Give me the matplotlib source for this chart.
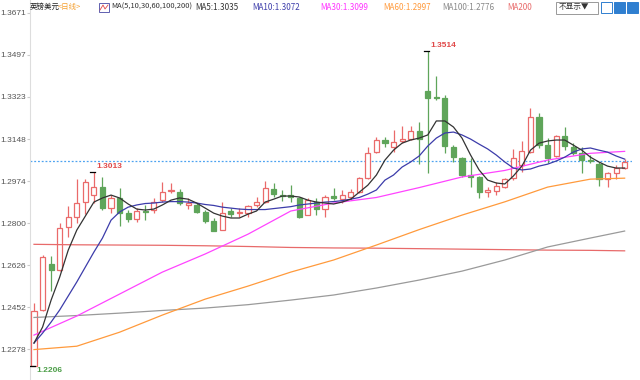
import matplotlib
matplotlib.use('Agg')
import matplotlib.pyplot as plt
from matplotlib.patches import Rectangle

# daily candles, GBP/USD
opens = [1.2210, 1.2440, 1.2630, 1.2605, 1.2783, 1.2826, 1.2886, 1.2916, 1.2951, 1.2863,
         1.2902, 1.2843, 1.2817, 1.2850, 1.2854, 1.2895, 1.2932, 1.2930, 1.2873, 1.2875,
         1.2844, 1.2808, 1.2771, 1.2848, 1.2840, 1.2840, 1.2875, 1.2888, 1.2941, 1.2918,
         1.2916, 1.2902, 1.2834, 1.2888, 1.2857, 1.2912, 1.2901, 1.2906, 1.2930, 1.2985,
         1.3093, 1.3144, 1.3114, 1.3140, 1.3147, 1.3182, 1.3348, 1.3324, 1.3317, 1.3116,
         1.3068, 1.2999, 1.2989, 1.2930, 1.2934, 1.2950, 1.2985, 1.3040, 1.3094, 1.3240,
         1.3123, 1.3078, 1.3160, 1.3116, 1.3089, 1.3061, 1.3044, 1.2981, 1.3008, 1.3030]
highs = [1.2469, 1.2667, 1.2663, 1.2799, 1.2872, 1.2982, 1.2981, 1.3013, 1.2992, 1.2916,
         1.2944, 1.2854, 1.2861, 1.2874, 1.2902, 1.2969, 1.2965, 1.2941, 1.2905, 1.2882,
         1.2854, 1.2819, 1.2888, 1.2861, 1.2861, 1.2875, 1.2909, 1.2975, 1.2967, 1.2937,
         1.2957, 1.2909, 1.2902, 1.2902, 1.2916, 1.2944, 1.2937, 1.2941, 1.2992, 1.3114,
         1.3158, 1.3158, 1.3185, 1.3202, 1.3202, 1.3220, 1.3514, 1.3409, 1.3330, 1.3123,
         1.3075, 1.3068, 1.2995, 1.2950, 1.2971, 1.2986, 1.3105, 1.3141, 1.3275, 1.3254,
         1.3151, 1.3165, 1.3199, 1.3133, 1.3116, 1.3082, 1.3054, 1.3013, 1.3040, 1.3065]
lows = [1.2206, 1.2435, 1.2520, 1.2603, 1.2743, 1.2800, 1.2837, 1.2882, 1.2854, 1.2840,
        1.2788, 1.2804, 1.2805, 1.2812, 1.2840, 1.2888, 1.2923, 1.2875, 1.2857, 1.2840,
        1.2799, 1.2767, 1.2771, 1.2826, 1.2826, 1.2826, 1.2868, 1.2882, 1.2906, 1.2891,
        1.2888, 1.2822, 1.2832, 1.2833, 1.2824, 1.2895, 1.2882, 1.2895, 1.2923, 1.2983,
        1.3090, 1.3116, 1.3095, 1.3130, 1.3144, 1.3044, 1.3006, 1.3310, 1.3089, 1.3054,
        1.2991, 1.2950, 1.2902, 1.2909, 1.2916, 1.2945, 1.2978, 1.3013, 1.3090, 1.3111,
        1.3049, 1.3075, 1.3102, 1.3082, 1.3008, 1.3047, 1.2953, 1.2948, 1.2981, 1.3022]
closes = [1.2437, 1.2660, 1.2605, 1.2778, 1.2825, 1.2882, 1.2971, 1.2948, 1.2863, 1.2902,
          1.2843, 1.2818, 1.2851, 1.2846, 1.2888, 1.2930, 1.2939, 1.2882, 1.2882, 1.2847,
          1.2810, 1.2768, 1.2843, 1.2837, 1.2844, 1.2872, 1.2886, 1.2944, 1.2920, 1.2912,
          1.2906, 1.2826, 1.2895, 1.2857, 1.2909, 1.2904, 1.2915, 1.2930, 1.2985, 1.3091,
          1.3144, 1.3133, 1.3137, 1.3147, 1.3182, 1.3147, 1.3317, 1.3317, 1.3119, 1.3072,
          1.2999, 1.2992, 1.2930, 1.2937, 1.2955, 1.2981, 1.3068, 1.3100, 1.3240, 1.3123,
          1.3069, 1.3160, 1.3119, 1.3089, 1.3061, 1.3056, 1.2981, 1.3008, 1.3030, 1.3054]

# moving averages as drawn on the source chart
ma5 = [1.2303, 1.2369, 1.2481, 1.2576, 1.2688, 1.2771, 1.2829, 1.2887, 1.2904, 1.2916,
       1.2904, 1.2879, 1.2858, 1.2854, 1.2858, 1.2875, 1.2895, 1.2904, 1.2899, 1.2883,
       1.2862, 1.2841, 1.2829, 1.2821, 1.2821, 1.2837, 1.2850, 1.2887, 1.2899, 1.2912,
       1.2912, 1.2908, 1.2895, 1.2887, 1.2883, 1.2879, 1.2887, 1.2899, 1.2928, 1.2957,
       1.2999, 1.3061, 1.3102, 1.3131, 1.3144, 1.3152, 1.3165, 1.3223, 1.3223, 1.3198,
       1.3152, 1.3082, 1.3020, 1.2978, 1.2966, 1.2962, 1.2995, 1.3036, 1.3102, 1.3131,
       1.3140, 1.3144, 1.3144, 1.3123, 1.3102, 1.3073, 1.3053, 1.3036, 1.3028, 1.3028]
ma10 = [1.2303, 1.2344, 1.2390, 1.2440, 1.2498, 1.2556, 1.2618, 1.2680, 1.2738, 1.2812,
        1.2846, 1.2866, 1.2875, 1.2881, 1.2883, 1.2887, 1.2889, 1.2889, 1.2887, 1.2883,
        1.2877, 1.2873, 1.2866, 1.2862, 1.2858, 1.2856, 1.2856, 1.2856, 1.2860, 1.2864,
        1.2868, 1.2875, 1.2879, 1.2883, 1.2887, 1.2889, 1.2893, 1.2899, 1.2906, 1.2920,
        1.2937, 1.2978, 1.2999, 1.3032, 1.3053, 1.3078, 1.3119, 1.3152, 1.3173, 1.3177,
        1.3165, 1.3148, 1.3127, 1.3107, 1.3082, 1.3053, 1.3028, 1.3020, 1.3024, 1.3036,
        1.3044, 1.3057, 1.3073, 1.3094, 1.3107, 1.3111, 1.3102, 1.3094, 1.3078, 1.3065]
ma_idx = [0, 5, 10, 15, 20, 25, 30, 35, 40, 45, 50, 55, 60, 65, 69]
ma30 = [1.2336, 1.2415, 1.2506, 1.2597, 1.2672, 1.2754, 1.2850, 1.2883,
        1.2906, 1.2947, 1.2991, 1.3018, 1.3061, 1.3089, 1.3097]
ma60 = [1.2276, 1.2290, 1.2348, 1.2419, 1.2485, 1.2539, 1.2597, 1.2647,
        1.2709, 1.2773, 1.2833, 1.2888, 1.2949, 1.2982, 1.2986]
ma100 = [1.2409, 1.2417, 1.2427, 1.2438, 1.2448, 1.2462, 1.2481, 1.2502,
         1.2531, 1.2564, 1.2601, 1.2647, 1.2701, 1.2738, 1.2767]
ma200 = [1.2712, 1.2710, 1.2709, 1.2708, 1.2706, 1.2703, 1.2699, 1.2697,
         1.2696, 1.2694, 1.2692, 1.2690, 1.2688, 1.2687, 1.2685]

yticks = [1.2278, 1.2452, 1.2626, 1.2800, 1.2974, 1.3148, 1.3323, 1.3497, 1.3671]
last_price = 1.3059

RED = '#ea6a6a'
GREEN = '#5fa55a'
NUMFONT = ['Liberation Sans', 'DejaVu Sans']
CJK = ['Noto Sans CJK SC', 'DejaVu Sans']

fig = plt.figure(figsize=(6.4, 3.8), dpi=100)
ax = fig.add_axes([30 / 640, 0, 602 / 640, 1])
ax.set_xlim(-0.467, 69.86)
ax.set_ylim(1.2150, 1.3724)

# candles
for i in range(len(opens)):
    o, h, l, c = opens[i], highs[i], lows[i], closes[i]
    col = RED if c >= o else GREEN
    ax.vlines(i, l, h, color=col, lw=0.9, zorder=2)
    bottom = min(o, c)
    height = max(abs(c - o), 0.00025)
    face = 'white' if c >= o else col
    ax.add_patch(Rectangle((i - 0.3, bottom), 0.6, height, facecolor=face,
                           edgecolor=col, lw=0.9, zorder=3))

xs = list(range(len(ma5)))
ax.plot(ma_idx, ma200, color='#e86a6a', lw=0.9, zorder=4)
ax.plot(ma_idx, ma100, color='#9a9a9a', lw=0.9, zorder=4)
ax.plot(ma_idx, ma60, color='#ff9a3c', lw=0.9, zorder=4)
ax.plot(ma_idx, ma30, color='#ff44ff', lw=0.9, zorder=4)
ax.plot(xs, ma10, color='#3c3caa', lw=0.9, zorder=5)
ax.plot(xs, ma5, color='#333333', lw=0.9, zorder=6)

ax.axhline(last_price, color='#4da3f0', lw=0.9, ls=(0, (1.5, 1.5)), zorder=1)

# high / low marks
hi1 = highs.index(max(highs[:20]))
hi2 = highs.index(max(highs))
lo1 = lows.index(min(lows))
for idx, val in [(hi1, highs[hi1]), (hi2, highs[hi2]), (lo1, lows[lo1])]:
    ax.plot([idx - 0.45, idx + 0.1], [val, val], color='black', lw=0.9, zorder=7)
ax.text(hi1 + 0.3, highs[hi1] + 0.0005, '%.4f' % highs[hi1], color='#e04848',
        fontsize=6, fontweight='bold', family=NUMFONT, va='bottom', ha='left')
ax.text(hi2 + 0.3, highs[hi2] + 0.0005, '%.4f' % highs[hi2], color='#e04848',
        fontsize=6, fontweight='bold', family=NUMFONT, va='bottom', ha='left')
ax.text(lo1 + 0.3, lows[lo1] - 0.0004, '%.4f' % lows[lo1], color='#4c9e48',
        fontsize=6, fontweight='bold', family=NUMFONT, va='top', ha='left')

ax.set_xticks([])
ax.set_yticks(yticks)
ax.set_yticklabels(['%.4f' % v for v in yticks], family=NUMFONT, fontsize=6, color='#555555')
ax.tick_params(axis='y', length=2, pad=1, color='#cccccc')
for s in ['top', 'right', 'bottom']:
    ax.spines[s].set_visible(False)
ax.spines['left'].set_color('#dddddd')
ax.spines['left'].set_linewidth(0.8)


def ftext(x, y, s, size=5.8, **kw):
    fig.text(x / 640, 1 - y / 380, s, va='center', ha='left', fontsize=size, family=CJK, **kw)


ftext(30, 7, '英镑美元', size=5.4, color='#222222')
ftext(58, 7, '<日线>', size=5.4, color='#f5a030')
fig.patches.append(Rectangle((99 / 640, 1 - 12 / 380), 10 / 640, 9 / 380, transform=fig.transFigure,
                             facecolor='white', edgecolor='#6060b0', lw=0.7))
fig.lines.append(plt.Line2D([100 / 640, 103 / 640, 105 / 640, 108 / 640],
                            [1 - 10 / 380, 1 - 5 / 380, 1 - 9 / 380, 1 - 5 / 380],
                            transform=fig.transFigure, color='#e04848', lw=0.6))
ftext(111, 7, 'MA(5,10,30,60,100,200)', size=5.4, color='#333333')
ftext(195, 7, 'MA5:1.3035', color='#333333')
ftext(252, 7, 'MA10:1.3072', color='#3c3caa')
ftext(320, 7, 'MA30:1.3099', color='#ff33ff')
ftext(383, 7, 'MA60:1.2997', color='#ff9a3c')
ftext(442, 7, 'MA100:1.2776', color='#888888')
ftext(507, 7, 'MA200', color='#e86a6a')

fig.patches.append(Rectangle((556 / 640, 1 - 14 / 380), 42 / 640, 12 / 380, transform=fig.transFigure,
                             facecolor='white', edgecolor='#999999', lw=0.7))
ftext(559, 7.5, '不显示▼', size=5.5, color='#333333')
for k, x0 in enumerate([601, 614, 627]):
    fig.patches.append(Rectangle((x0 / 640, 1 - 13 / 380), 11 / 640, 11 / 380,
                                 transform=fig.transFigure,
                                 facecolor='#ffffff' if k == 0 else '#2f7fd0',
                                 edgecolor='#2f7fd0', lw=0.7))

fig.savefig('out.png', dpi=100, facecolor='white')
